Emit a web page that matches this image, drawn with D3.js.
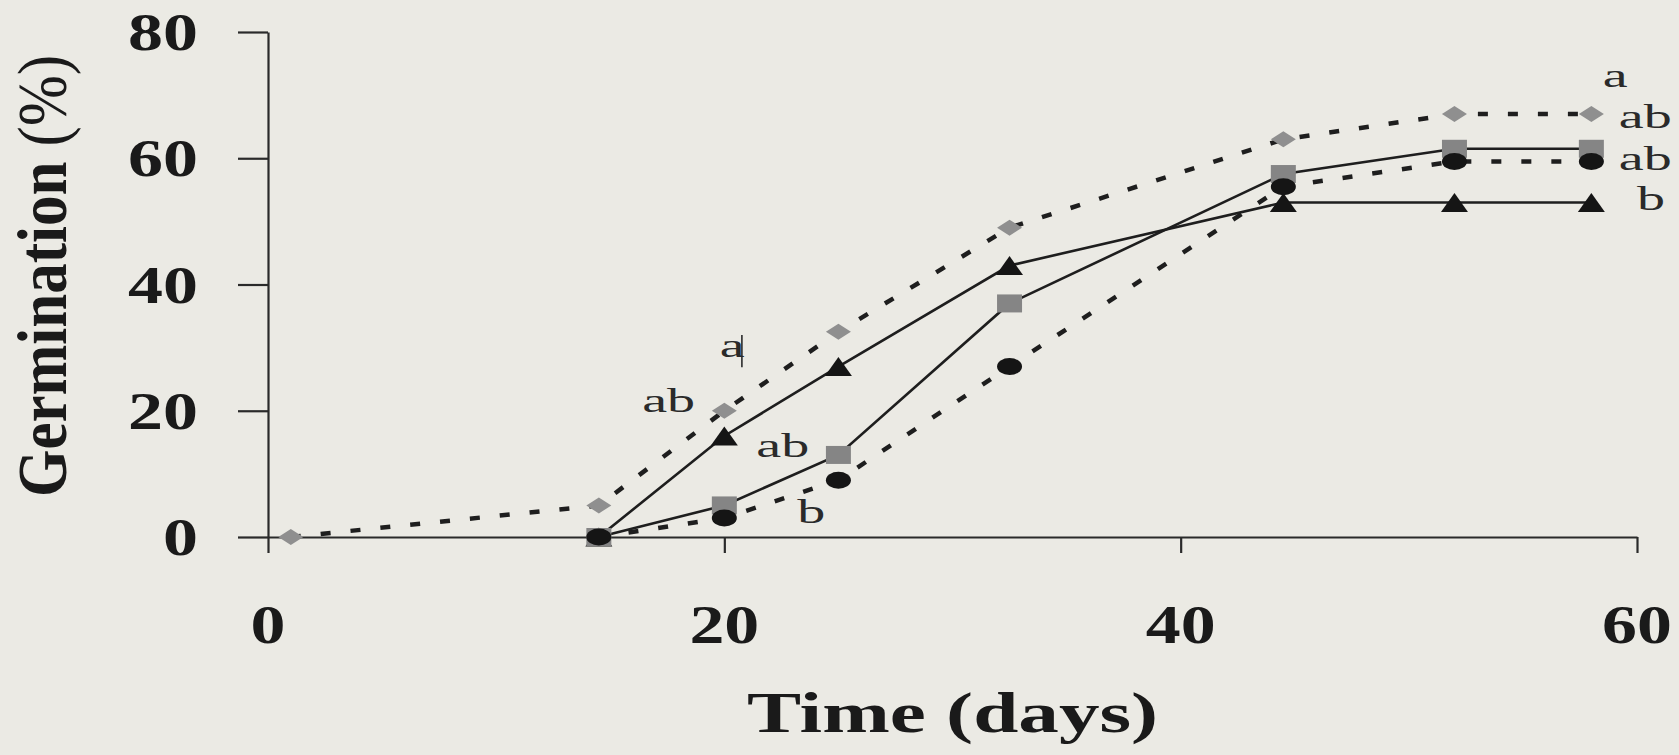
<!DOCTYPE html>
<html>
<head>
<meta charset="utf-8" />
<title>Germination</title>
<script type="text/javascript" src="https://d3js.org/d3.v7.min.js"></script>
<style>
  body { margin: 0; background: #ebeae4; }
  svg { display: block; }
  .tick-label { font-family: "Liberation Serif", "Times New Roman", serif; font-weight: bold; fill: #1a1a1a; }
  .note { font-family: "Liberation Serif", "Times New Roman", serif; fill: #2a2a2a; }
</style>
</head>
<body>
<script type="text/javascript">
// data
var diamondDays = [1, 14.5, 20, 25, 32.5, 44.5, 52, 58];
var diamondVals = [0, 5, 20, 32.5, 49, 63, 67, 67];
var days = [14.5, 20, 25, 32.5, 44.5, 52, 58];
var triangleVals = [0, 16, 27, 43, 53, 53, 53];
var squareVals = [0, 5, 13, 37, 57.5, 61.5, 61.5];
var circleVals = [0, 3, 9, 27, 55.5, 59.5, 59.5];

var xTicks = [0, 20, 40, 60];
var yTicks = [0, 20, 40, 60, 80];

// letters of the statistics, placed in data units
var notes = [
  {t: "ab", d: 16.4, v: 19.8},
  {t: "a", d: 19.8, v: 28.5},
  {t: "ab", d: 21.4, v: 12.7},
  {t: "b", d: 23.2, v: 2.2},
  {t: "a", d: 58.5, v: 71.3},
  {t: "ab", d: 59.2, v: 64.8},
  {t: "ab", d: 59.2, v: 58.1},
  {t: "b", d: 60.0, v: 51.8}
];

var W = 1679, H = 755;

var svg = d3.select("body").append("svg")
  .attr("width", W).attr("height", H);

var x = d3.scaleLinear().domain([0, 60]).range([268, 1637]);
var y = d3.scaleLinear().domain([0, 80]).range([537, 32]);

// axes
svg.append("g")
  .attr("transform", "translate(" + x(0) + ",0)")
  .call(d3.axisLeft(y).tickValues(yTicks).tickSize(30).tickSizeOuter(0).tickFormat(""))
  .call(function(g) { g.selectAll("path, line").attr("stroke", "#2a2a2a").attr("stroke-width", 2.2); });

svg.append("g")
  .attr("transform", "translate(0," + y(0) + ")")
  .call(d3.axisBottom(x).tickValues(xTicks).tickSize(16).tickSizeOuter(0).tickFormat(""))
  .call(function(g) { g.selectAll("path, line").attr("stroke", "#2a2a2a").attr("stroke-width", 2.2); });

// tick labels
svg.selectAll(".ylab").data(yTicks).enter().append("text")
  .attr("class", "tick-label")
  .attr("transform", function(d) { return "translate(198," + y(d) + ") scale(1.32,1)"; })
  .attr("dy", "0.34em")
  .attr("text-anchor", "end")
  .attr("font-size", 53)
  .text(function(d) { return d; });

svg.selectAll(".xlab").data(xTicks).enter().append("text")
  .attr("class", "tick-label")
  .attr("transform", function(d) { return "translate(" + x(d) + ",643) scale(1.27,1)"; })
  .attr("text-anchor", "middle")
  .attr("font-size", 55)
  .text(function(d) { return d; });

// axis titles
svg.append("text")
  .attr("class", "tick-label")
  .attr("transform", "translate(" + ((x(0) + x(60)) / 2) + ",732) scale(1.45,1)")
  .attr("text-anchor", "middle")
  .attr("font-size", 56)
  .text("Time (days)");

var yt = svg.append("text")
  .attr("class", "tick-label")
  .attr("transform", "translate(66,276) scale(1.14,1) rotate(-90)")
  .attr("text-anchor", "middle")
  .attr("font-size", 61);
yt.append("tspan").text("Germination ");
yt.append("tspan").attr("font-weight", "normal").text("(%)");

// lines
function pts(xs, vs) { return xs.map(function(d, i) { return [d, vs[i]]; }); }
var line = d3.line().x(function(d) { return x(d[0]); }).y(function(d) { return y(d[1]); });

var dashed = {fill: "none", stroke: "#1e1e1e", "stroke-width": 4.5, "stroke-dasharray": "10,20"};
var solid = {fill: "none", stroke: "#1e1e1e", "stroke-width": 2.6};

function drawLine(data, style) {
  var p = svg.append("path").datum(data).attr("d", line);
  Object.keys(style).forEach(function(k) { p.attr(k, style[k]); });
}
drawLine(pts(diamondDays, diamondVals), dashed);
drawLine(pts(days, circleVals), dashed);
drawLine(pts(days, triangleVals), solid);
drawLine(pts(days, squareVals), solid);

// markers
var shapes = {
  diamond: function(w, h) { return "M0," + (-h / 2) + "L" + (w / 2) + ",0L0," + (h / 2) + "L" + (-w / 2) + ",0Z"; },
  square: function(w, h) { return "M" + (-w / 2) + "," + (-h / 2) + "h" + w + "v" + h + "h" + (-w) + "Z"; },
  circle: function(w, h) { return "M" + (-w / 2) + ",0a" + (w / 2) + "," + (h / 2) + " 0 1,0 " + w + ",0a" + (w / 2) + "," + (h / 2) + " 0 1,0 " + (-w) + ",0Z"; },
  triangle: function(w, h) { return "M0," + (-h / 2) + "L" + (w / 2) + "," + (h / 2) + "L" + (-w / 2) + "," + (h / 2) + "Z"; }
};

function drawMarks(data, shape, w, h, color) {
  svg.append("g").selectAll("path").data(data).enter().append("path")
    .attr("transform", function(d) { return "translate(" + x(d[0]) + "," + y(d[1]) + ")"; })
    .attr("d", shapes[shape](w, h))
    .attr("fill", color);
}
drawMarks(pts(diamondDays, diamondVals), "diamond", 25, 16, "#8f8f8f");
drawMarks(pts(days, triangleVals), "triangle", 27, 19, "#151515");
drawMarks(pts(days, squareVals), "square", 25, 18, "#858585");
drawMarks(pts(days, circleVals), "circle", 25, 17, "#151515");

// letters
svg.selectAll(".note").data(notes).enter().append("text")
  .attr("class", "note")
  .attr("transform", function(d) { return "translate(" + x(d.d) + "," + y(d.v) + ") scale(1.65,1)"; })
  .attr("font-size", 34)
  .text(function(d) { return d.t; });

// small bar drawn next to the upper "a"
svg.append("line")
  .attr("x1", x(20.77)).attr("x2", x(20.77))
  .attr("y1", y(32)).attr("y2", y(26.9))
  .attr("stroke", "#2a2a2a").attr("stroke-width", 1.6);
</script>
</body>
</html>
